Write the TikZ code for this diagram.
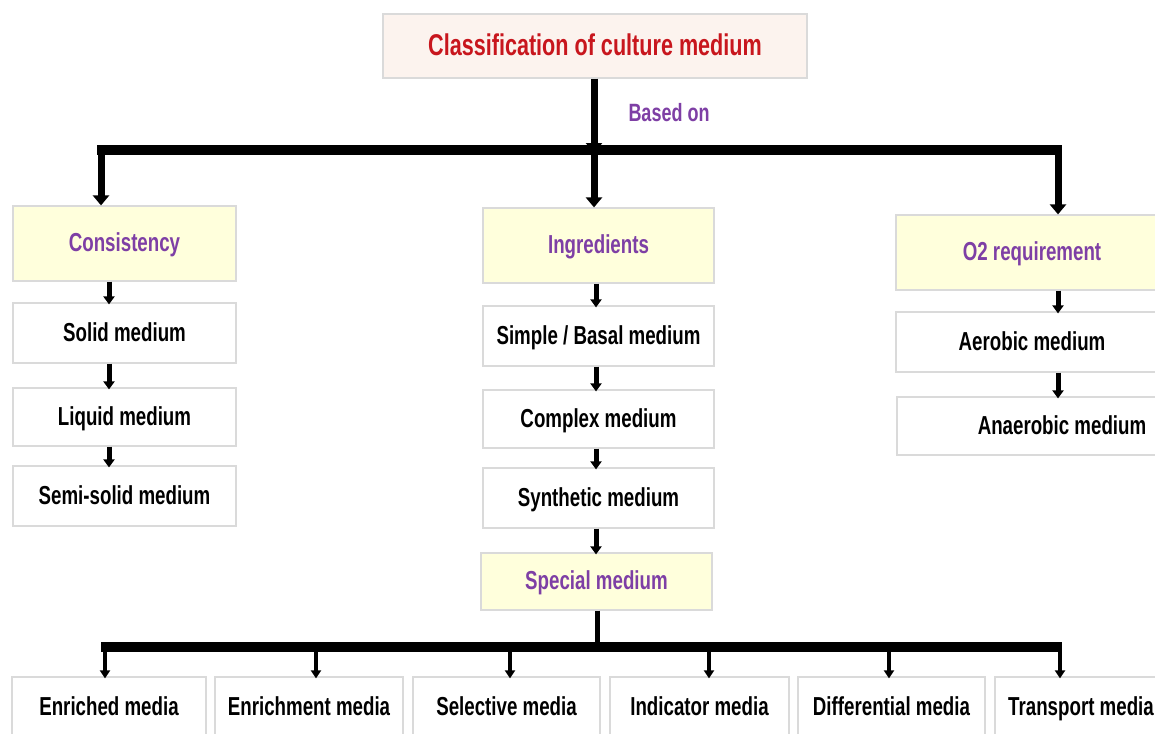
\documentclass[tikz,border=0pt]{standalone}
\usepackage{fontspec}
\usetikzlibrary{arrows.meta,calc}
\newfontfamily\cf{Liberation Sans}[FakeStretch=0.72]
\definecolor{titlered}{HTML}{C8161D}
\definecolor{purp}{HTML}{7E3FA5}
\definecolor{headfill}{HTML}{FFFFDC}
\definecolor{titlefill}{HTML}{FCF3EE}
\definecolor{boxline}{HTML}{DADADA}
\tikzset{
  box/.style={draw=boxline, line width=1.2pt, fill=white, text=black, inner sep=0pt,
    font=\cf\bfseries\fontsize{26}{30}\selectfont, text height=16pt, text depth=0pt},
  headbox/.style={box, fill=headfill, text=purp},
  bigarrow/.style={line width=7pt, -{Triangle[width=16pt,length=10pt]}},
  smallarrow/.style={line width=5pt, -{Triangle[width=11pt,length=8pt]}},
  thinarrow/.style={line width=4pt, -{Triangle[width=10pt,length=8pt]}},
  bar/.style={line width=10pt},
}
\begin{document}
\begin{tikzpicture}[x=1pt,y=-1pt]
\useasboundingbox (0,0) rectangle (1155,733);
\clip (0,0) rectangle (1155,733);
\fill[white] (0,0) rectangle (1155,733);
% title
\node[box, fill=titlefill, text=titlered, minimum width=424pt, minimum height=64pt,
  font=\cf\bfseries\fontsize{30}{34}\selectfont, text height=19pt] (title) at (595,46) {Classification of culture medium};
\node[text=purp, font=\cf\bfseries\fontsize{25}{28}\selectfont, inner sep=0pt] (based) at (669,113) {Based on};
% first-level boxes
\node[headbox, minimum width=223pt, minimum height=75pt] (cons) at (124.5,243.5) {Consistency};
\node[box, minimum width=223pt, minimum height=60pt] (solid) at (124.5,333) {Solid medium};
\node[box, minimum width=223pt, minimum height=58pt] (liquid) at (124.5,417) {Liquid medium};
\node[box, minimum width=223pt, minimum height=60pt] (semi) at (124.5,496) {Semi-solid medium};

\node[headbox, minimum width=231pt, minimum height=75pt] (ingr) at (598.5,245.5) {Ingredients};
\node[box, minimum width=231pt, minimum height=60pt] (simple) at (598.5,336) {Simple / Basal medium};
\node[box, minimum width=231pt, minimum height=58pt] (complex) at (598.5,419) {Complex medium};
\node[box, minimum width=231pt, minimum height=60pt] (synth) at (598.5,498) {Synthetic medium};
\node[headbox, minimum width=231pt, minimum height=57pt] (special) at (596.5,581.5) {Special medium};

\node[headbox, minimum width=272pt, minimum height=75pt] (o2) at (1032,252.5) {O2 requirement};
\node[box, minimum width=272pt, minimum height=60pt] (aero) at (1032,342) {Aerobic medium};
\node[box, minimum width=330pt, minimum height=58pt] (anaero) at (1062,426) {Anaerobic medium};

% bottom boxes
\node[box, minimum width=194pt, minimum height=60pt] (enr) at (109,707) {Enriched media};
\node[box, minimum width=188pt, minimum height=60pt] (enrm) at (309,707) {Enrichment media};
\node[box, minimum width=187pt, minimum height=60pt] (sel) at (506.5,707) {Selective media};
\node[box, minimum width=179pt, minimum height=60pt] (ind) at (699.5,707) {Indicator media};
\node[box, minimum width=187pt, minimum height=60pt] (diff) at (891.5,707) {Differential media};
\node[box, minimum width=172pt, minimum height=60pt] (trans) at (1081,707) {Transport media};

% top bar
\coordinate (bl) at (101,150);
\coordinate (bm) at (594,150);
\coordinate (br) at (1058,150);
\draw[bar] ([xshift=-4pt]bl) -- ([xshift=4pt]br);
\draw[bigarrow] (title.south -| bm) -- ([yshift=-3pt]bm);
\draw[bigarrow] (bl) -- (cons.north -| bl);
\draw[bigarrow] (bm) -- (ingr.north -| bm);
\draw[bigarrow] (br) -- (o2.north -| br);

% column arrows
\coordinate (cl) at (109,0);
\coordinate (cm) at (596,0);
\coordinate (cr) at (1058,0);
\draw[smallarrow] (cons.south -| cl) -- ([yshift=-2pt]solid.north -| cl);
\draw[smallarrow] (solid.south -| cl) -- ([yshift=-2pt]liquid.north -| cl);
\draw[smallarrow] (liquid.south -| cl) -- ([yshift=-2pt]semi.north -| cl);
\draw[smallarrow] (ingr.south -| cm) -- ([yshift=-2pt]simple.north -| cm);
\draw[smallarrow] (simple.south -| cm) -- ([yshift=-2pt]complex.north -| cm);
\draw[smallarrow] (complex.south -| cm) -- ([yshift=-2pt]synth.north -| cm);
\draw[smallarrow] (synth.south -| cm) -- ([yshift=-2pt]special.north -| cm);
\draw[smallarrow] (o2.south -| cr) -- ([yshift=-2pt]aero.north -| cr);
\draw[smallarrow] (aero.south -| cr) -- ([yshift=-2pt]anaero.north -| cr);

% bottom bar
\coordinate (ql) at (105,647);
\coordinate (qm) at (597,647);
\coordinate (qr) at (1060,647);
\draw[bar] ([xshift=-4pt]ql) -- ([xshift=2pt]qr);
\draw[smallarrow] (special.south -| qm) -- ([yshift=-3pt]qm);
\draw[thinarrow] (ql) -- ([yshift=-2pt]enr.north -| ql);
\draw[thinarrow] (qm -| 316,0) -- ([yshift=-2pt]enrm.north -| 316,0);
\draw[thinarrow] (qm -| 510,0) -- ([yshift=-2pt]sel.north -| 510,0);
\draw[thinarrow] (qm -| 709,0) -- ([yshift=-2pt]ind.north -| 709,0);
\draw[thinarrow] (qm -| 889,0) -- ([yshift=-2pt]diff.north -| 889,0);
\draw[thinarrow] (qr) -- ([yshift=-2pt]trans.north -| qr);
\end{tikzpicture}
\end{document}
